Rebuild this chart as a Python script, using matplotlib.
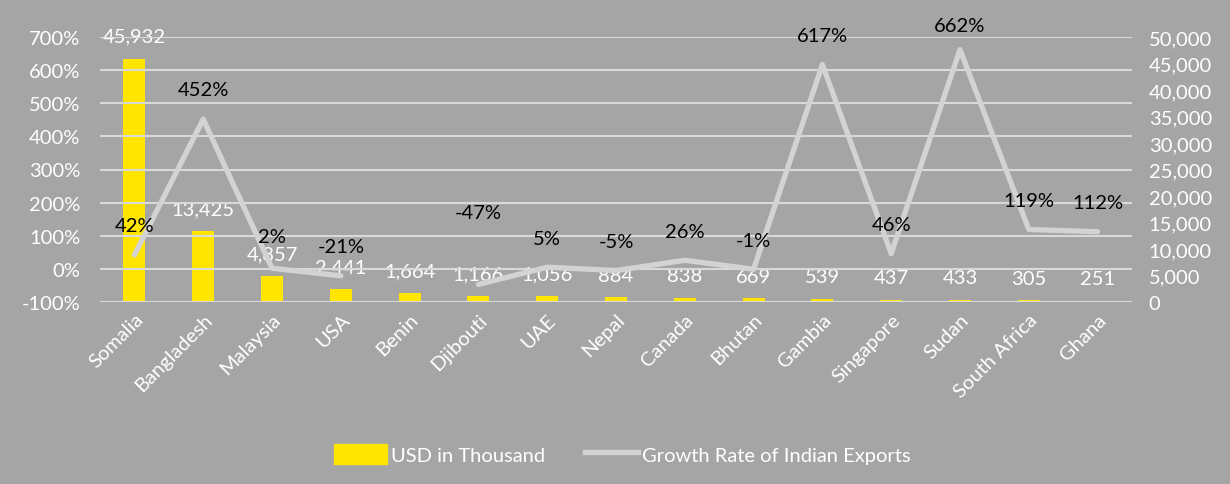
import numpy as np
import matplotlib
matplotlib.use('Agg')
import matplotlib.pyplot as plt
from matplotlib.ticker import FuncFormatter
from matplotlib.lines import Line2D
from matplotlib.patches import Patch

# Datos
countries = ['Somalia', 'Bangladesh', 'Malaysia', 'USA', 'Benin', 'Djibouti', 'UAE', 'Nepal',
             'Canada', 'Bhutan', 'Gambia', 'Singapore', 'Sudan', 'South Africa', 'Ghana']
usd_thousand = [45932, 13425, 4857, 2441, 1664, 1166, 1056, 884, 838, 669, 539, 437, 433, 305, 251]
growth_pct = [42, 452, 2, -21, np.nan, -47, 5, -5, 26, -1, 617, 46, 662, 119, 112]

bg = '#a5a5a5'
grid_col = '#d9d9d9'
bar_col = '#ffe500'
line_col = '#d3d3d3'
fs = 14.5

plt.rcParams['font.family'] = ['Lato', 'DejaVu Sans']

fig = plt.figure(figsize=(12.3, 4.85), dpi=100, facecolor=bg)
ax = fig.add_axes([100 / 1230, 182 / 485, 1032 / 1230, 265 / 485])
ax2 = ax.twinx()

x = np.arange(len(countries))

# Eje izquierdo: porcentaje
ax.set_ylim(-100, 700)
ax.set_yticks(np.arange(-100, 701, 100))
ax.yaxis.set_major_formatter(FuncFormatter(lambda v, p: f'{v:.0f}%'))
ax.grid(axis='y', color=grid_col, lw=1.5)

# Eje derecho: USD
ax2.set_ylim(0, 50000)
ax2.set_yticks(np.arange(0, 50001, 5000))
ax2.yaxis.set_major_formatter(FuncFormatter(lambda v, p: f'{v:,.0f}'))

# Barras (eje derecho) detrás de la línea (eje izquierdo)
ax2.set_zorder(1)
ax.set_zorder(2)
ax.patch.set_visible(False)
ax2.patch.set_visible(False)

ax2.bar(x, usd_thousand, width=0.32, color=bar_col, zorder=2)
for xi, v in zip(x, usd_thousand):
    ax2.annotate(f'{v:,}', (xi, v), xytext=(0, 16), textcoords='offset points',
                 ha='center', va='center', color='white', fontsize=fs)

ax.plot(x, growth_pct, color=line_col, lw=3.8, solid_capstyle='round', zorder=3)
# desplazamiento vertical de las etiquetas de %, algunas movidas a mano
label_dy = {'Djibouti': 52, 'Sudan': 17, 'Malaysia': 23}
for xi, g, name in zip(x, growth_pct, countries):
    if np.isnan(g):
        continue
    ax.annotate(f'{g:.0f}%', (xi, g), xytext=(0, label_dy.get(name, 21)),
                textcoords='offset points', ha='center', va='center',
                color='black', fontsize=fs)

ax.set_xlim(-0.5, len(countries) - 0.5)
ax.set_xticks(x)
ax.set_xticklabels(countries, rotation=45, ha='right', rotation_mode='anchor')

for a in (ax, ax2):
    for s in a.spines.values():
        s.set_visible(False)
    a.tick_params(length=0, colors='white', labelsize=fs)
ax.tick_params(axis='y', pad=14)
ax2.tick_params(axis='y', pad=12)
ax.tick_params(axis='x', pad=6)

handles = [Patch(color=bar_col), Line2D([0], [0], color=line_col, lw=3.8)]
fig.legend(handles, ['USD in Thousand', 'Growth Rate of Indian Exports'],
           loc='center', bbox_to_anchor=(0.506, 0.062), ncol=2, frameon=False,
           fontsize=fs, labelcolor='white', handlelength=2.6, handleheight=1.1,
           columnspacing=2.0, handletextpad=0.2)

fig.savefig('out.png', dpi=100, facecolor=bg)
